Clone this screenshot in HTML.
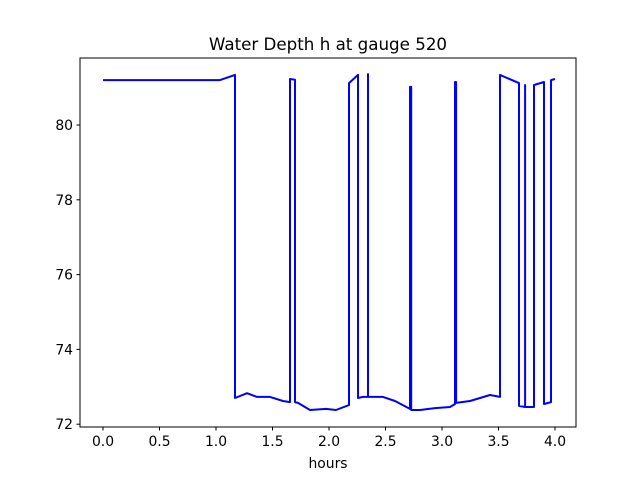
<!DOCTYPE html>
<html><head><meta charset="utf-8"><style>body{margin:0;background:#fff}svg{display:block}text{font-family:"DejaVu Sans","Liberation Sans",sans-serif;fill:#000}</style></head>
<body>
<svg id="chart" width="640" height="480" viewBox="0 0 640 480" xmlns="http://www.w3.org/2000/svg">
<rect width="640" height="480" fill="#fff"/>
<text x="328" y="50" font-size="16.7" text-anchor="middle">Water Depth h at gauge 520</text>
<text x="328" y="468" font-size="13.9" text-anchor="middle">hours</text>
<g id="ticks"></g>
<path id="series" fill="none" stroke="#0000ff" stroke-width="2" stroke-linejoin="round"/>
<rect x="80" y="58" width="496" height="369" fill="none" stroke="#000" stroke-width="1"/>
</svg>
<script>
const times=[0,1.035,1.168,1.168,1.274,1.363,1.478,1.593,1.655,1.655,1.699,1.699,1.726,1.832,1.973,2.062,2.177,2.177,2.257,2.257,2.301,2.345,2.345,2.345,2.478,2.584,2.717,2.717,2.727,2.727,2.805,2.938,3.071,3.115,3.115,3.125,3.125,3.248,3.336,3.425,3.513,3.513,3.681,3.681,3.735,3.735,3.735,3.814,3.814,3.903,3.903,3.965,3.965,4.0];
const depths=[81.20,81.20,81.34,72.70,72.83,72.73,72.73,72.62,72.59,81.23,81.21,72.59,72.57,72.38,72.41,72.38,72.51,81.12,81.34,72.70,72.73,72.73,81.36,72.73,72.73,72.62,72.41,81.02,81.02,72.38,72.38,72.43,72.46,72.54,81.15,81.15,72.57,72.62,72.70,72.78,72.73,81.34,81.12,72.49,72.46,81.07,72.46,72.46,81.07,81.15,72.54,72.59,81.20,81.23];
const xTicks=[0,0.5,1,1.5,2,2.5,3,3.5,4];
const xTickLabels=["0.0","0.5","1.0","1.5","2.0","2.5","3.0","3.5","4.0"];
const yTicks=[72,74,76,78,80];
const yTickLabels=["72","74","76","78","80"];
const X=t=>103+t*113;
const Y=v=>125+(80-v)*37.4;
const NS="http://www.w3.org/2000/svg";
const g=document.getElementById('ticks');
function mk(tag,attrs){const e=document.createElementNS(NS,tag);for(const k in attrs)e.setAttribute(k,attrs[k]);g.appendChild(e);return e;}
xTicks.forEach((t,i)=>{
  const l=mk('line',{x1:X(t),x2:X(t),y1:427,y2:430.5,stroke:'#000'});
  
  
  const tx=mk('text',{x:X(t),y:446,'font-size':'13.9','text-anchor':'middle'});
  
  
  tx.textContent=xTickLabels[i];
});
yTicks.forEach((v,i)=>{
  const l=mk('line',{x1:76.5,x2:80,y1:Y(v),y2:Y(v),stroke:'#000'});
  
  
  const tx=mk('text',{x:73,y:Y(v)+5,'font-size':'13.9','text-anchor':'end'});
  
  
  tx.textContent=yTickLabels[i];
});
document.getElementById('series').setAttribute('d',times.map((t,i)=>(i?'L':'M')+X(t).toFixed(1)+' '+Y(depths[i]).toFixed(1)).join(' '));
</script>
</body></html>
